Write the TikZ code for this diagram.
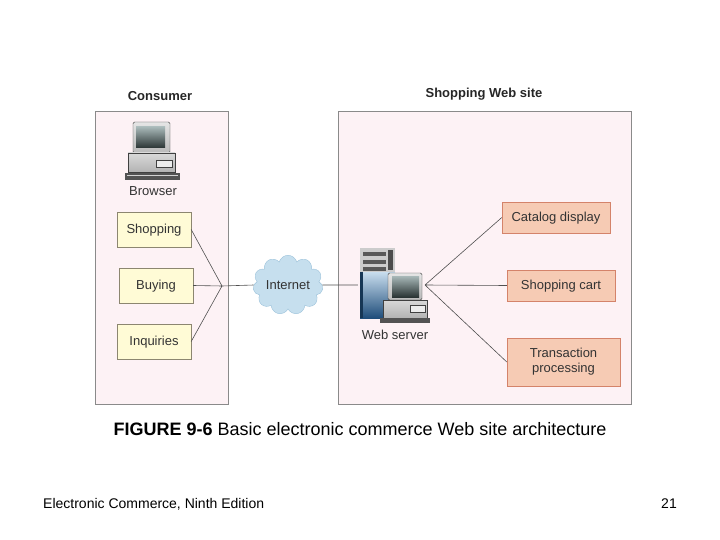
\documentclass[tikz,border=0pt]{standalone}
\usepackage{fontspec}
\setmainfont{Liberation Sans}
\usetikzlibrary{shapes.symbols}

\definecolor{zonefill}{HTML}{FDF2F5}
\definecolor{zoneedge}{HTML}{8A8A8A}
\definecolor{userfill}{HTML}{FFFBD6}
\definecolor{useredge}{HTML}{8C8670}
\definecolor{sitefill}{HTML}{F6CBB4}
\definecolor{siteedge}{HTML}{D4836A}
\definecolor{cloudfill}{HTML}{C6DFEE}
\definecolor{cloudedge}{HTML}{9CC2DA}
\definecolor{wirecol}{HTML}{505050}
\definecolor{towerlight}{HTML}{C8DDEE}
\definecolor{towerdark}{HTML}{1F4D7A}
\definecolor{screenlight}{HTML}{A8B8B8}
\definecolor{screendark}{HTML}{2A3434}

\begin{document}
\begin{tikzpicture}[x=1pt, y=-1pt,
	zone/.style={draw=zoneedge, fill=zonefill, line width=0.8pt, inner sep=0pt},
	userbox/.style={draw=useredge, fill=userfill, minimum width=74pt,
		minimum height=35pt, inner sep=0pt, font=\fontsize{13}{15}\selectfont, text=black!80,
		text height=1.9ex, text depth=0.3ex},
	sitebox/.style={draw=siteedge, fill=sitefill, minimum height=31pt,
		inner sep=0pt, align=center, font=\fontsize{13}{15}\selectfont, text=black!80},
	heading/.style={font=\fontsize{13}{15}\selectfont\bfseries, text=black!85},
	iconname/.style={font=\fontsize{13}{15}\selectfont, text=black!80},
	wire/.style={draw=wirecol, line width=0.6pt},
	case/.style={draw=gray!50!black, line width=0.4pt}]
	\useasboundingbox (0,0) rectangle (720,540);

	% the two areas
	\node[zone, minimum width=133pt, minimum height=293pt] (consumer) at (161.5,257.5) {};
	\node[zone, minimum width=293pt, minimum height=293pt] (website) at (484.5,257.5) {};
	\node[heading] (consumertitle) at (160,96) {Consumer};
	\node[heading] (websitetitle) at (484,94) {Shopping Web site};

	% browser side
	\node[userbox] (shopping) at (154,229.5) {Shopping};
	\node[userbox] (buying) at (156,285.5) {Buying};
	\node[userbox] (inquiries) at (154,341.5) {Inquiries};
	\coordinate (fanL) at (222,286);

	% web site side
	\node[sitebox, minimum width=108pt, text height=1.9ex, text depth=0.3ex] (catalog) at (556,217.5) {Catalog display};
	\node[sitebox, minimum width=108pt, text height=1.9ex, text depth=0.3ex] (cart) at (561,285.5) {Shopping cart};
	\node[sitebox, minimum width=113pt, minimum height=48pt] (transaction) at (563.5,362)
		{Transaction\\processing};
	\node[inner sep=0pt, minimum width=72pt, minimum height=75pt] (server) at (394,285) {};
	\coordinate (fanR) at (425,285);

	\node[cloud, cloud puffs=11, aspect=1.3, minimum width=60pt, minimum height=46pt,
		inner sep=0pt, fill=cloudfill, draw=cloudedge, iconname] (internet) at (288,285) {Internet};

	% connectors
	\draw[wire] (shopping.east) -- (fanL)
		(buying.east) -- (fanL)
		(inquiries.east) -- (fanL);
	\draw[wire] (fanL) -- (internet.west);
	\draw[wire] (internet.east) -- (server.west);
	\draw[wire] (fanR) -- (catalog.west)
		(fanR) -- (cart.west)
		(fanR) -- (transaction.west);

	% browser computer
	\shade[case, rounded corners=1.5pt, top color=gray!20, bottom color=gray!55] (133,122) rectangle (170,153);
	\shade[top color=screenlight, bottom color=screendark] (136,127) rectangle (165,148);
	\shade[case, top color=gray!30, bottom color=gray!60] (128,153) rectangle (175,172);
	\draw[case, fill=gray!15] (156,160) rectangle (172,167);
	\fill[gray!65!black] (125,173) rectangle (180,180);
	\fill[gray!35] (127,175) rectangle (178,176.5);
	\node[iconname] (browser) at (153,191) {Browser};

	% server tower and monitor
	\fill[gray!40] (360,248) rectangle (395,272);
	\foreach \yy in {252,260,267}
		\fill[gray!70!black] (363,\yy) rectangle (386,\yy+4);
	\fill[gray!60!black] (388,250) rectangle (393,270);
	\shade[top color=towerlight, bottom color=towerdark] (360,272) rectangle (395,318);
	\fill[towerdark!70!black] (360,272) rectangle (363,318);
	\shade[case, rounded corners=1.5pt, top color=gray!20, bottom color=gray!55] (388,273) rectangle (422,300);
	\shade[top color=screenlight, bottom color=screendark] (392,276) rectangle (419,297);
	\shade[case, top color=gray!30, bottom color=gray!60] (383,300) rectangle (427,318);
	\draw[case, fill=gray!15] (410,305) rectangle (425,312);
	\fill[gray!65!black] (380,318) rectangle (430,323);
	\node[iconname] (servername) at (395,335) {Web server};

	% caption and footer
	\node (caption) at (360,429) {\fontsize{18}{21}\selectfont\textbf{FIGURE 9-6} Basic electronic commerce Web site architecture};
	\node[anchor=west, inner sep=0pt] (edition) at (43,504) {\fontsize{14}{16}\selectfont Electronic Commerce, Ninth Edition};
	\node[inner sep=0pt] (pageno) at (669,504) {\fontsize{14}{16}\selectfont 21};
\end{tikzpicture}
\end{document}
